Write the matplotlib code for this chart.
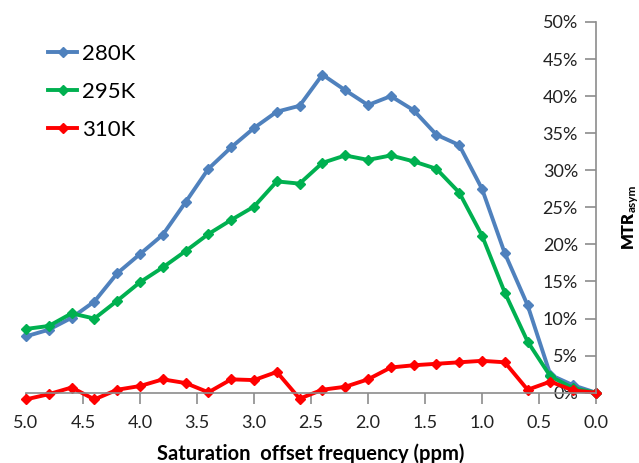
import numpy as np
import matplotlib
matplotlib.use("Agg")
import matplotlib.pyplot as plt

plt.rcParams['font.family'] = ['Lato', 'DejaVu Sans']

# offset frequency in ppm
freq = [5.0, 4.8, 4.6, 4.4, 4.2, 4.0, 3.8, 3.6, 3.4, 3.2, 3.0, 2.8, 2.6,
        2.4, 2.2, 2.0, 1.8, 1.6, 1.4, 1.2, 1.0, 0.8, 0.6, 0.4, 0.2, 0.0]

# MTRasym in percent
mtr_280 = [7.6, 8.5, 10.1, 12.3, 16.1, 18.7, 21.3, 25.7, 30.2, 33.1, 35.7, 37.9, 38.7,
           42.9, 40.8, 38.8, 40.0, 38.1, 34.8, 33.4, 27.5, 18.8, 11.8, 2.4, 1.0, 0.0]
mtr_295 = [8.6, 9.0, 10.7, 10.0, 12.4, 14.9, 16.9, 19.1, 21.4, 23.3, 25.1, 28.5, 28.2,
           31.0, 32.0, 31.4, 32.0, 31.2, 30.2, 27.0, 21.2, 13.5, 6.9, 2.2, 0.6, 0.0]
mtr_310 = [-0.9, -0.2, 0.7, -0.9, 0.4, 0.9, 1.8, 1.3, 0.05, 1.8, 1.7, 2.8, -0.8,
           0.4, 0.8, 1.8, 3.4, 3.7, 3.9, 4.1, 4.3, 4.1, 0.4, 1.5, 0.3, 0.0]

series = [("280K", mtr_280, "#4F81BD"),
          ("295K", mtr_295, "#00B050"),
          ("310K", mtr_310, "#FF0000")]

fig = plt.figure(figsize=(6.39, 4.63), dpi=100)
ax = fig.add_axes([26/639, 1 - 392.7/463, (596 - 26)/639, (392.7 - 22)/463])

for name, vals, col in series:
    ax.plot(freq, np.array(vals) / 100, color=col, lw=2.8, marker='D', ms=5.5,
            label=name, clip_on=False, solid_joinstyle='round')

ax.set_xlim(5.0, 0.0)
ax.set_ylim(0, 0.5)
ax.set_xticks(np.arange(0, 5.01, 0.5))
ax.set_xticklabels(['%.1f' % v for v in np.arange(0, 5.01, 0.5)])
ax.set_yticks(np.arange(0, 0.501, 0.05))
ax.set_yticklabels(['%d%%' % round(v * 100) for v in np.arange(0, 0.501, 0.05)])

# y axis sits at x = 0, which is the right edge (reversed x)
ax.spines['left'].set_position(('data', 0))
ax.spines['top'].set_visible(False)
ax.spines['right'].set_visible(False)
for s in ['left', 'bottom']:
    ax.spines[s].set_color('#8c8c8c')
    ax.spines[s].set_linewidth(1.2)
ax.tick_params(axis='both', direction='out', length=8, width=1.2, color='#8c8c8c',
               labelsize=13, labelcolor='#222222')
ax.tick_params(axis='x', pad=8)
ax.tick_params(axis='y', pad=5)

ax.set_xlabel('Saturation  offset frequency (ppm)', fontsize=14.5, fontweight='bold',
              labelpad=9)

# MTR with subscript asym, rotated
fig.text(627.5/639, 1 - 248/463, 'MTR', rotation=90, fontsize=12, fontweight='heavy',
         ha='center', va='bottom')
fig.text(632/639, 1 - 212/463, 'asym', rotation=90, fontsize=8.5, fontweight='bold',
         ha='center', va='bottom')

ax.legend(loc='upper left', bbox_to_anchor=(0.0, 1.0), frameon=False, fontsize=16,
          handlelength=1.3, handletextpad=0.2, labelspacing=0.8, borderaxespad=0.6)

fig.savefig('out.png', dpi=100)
